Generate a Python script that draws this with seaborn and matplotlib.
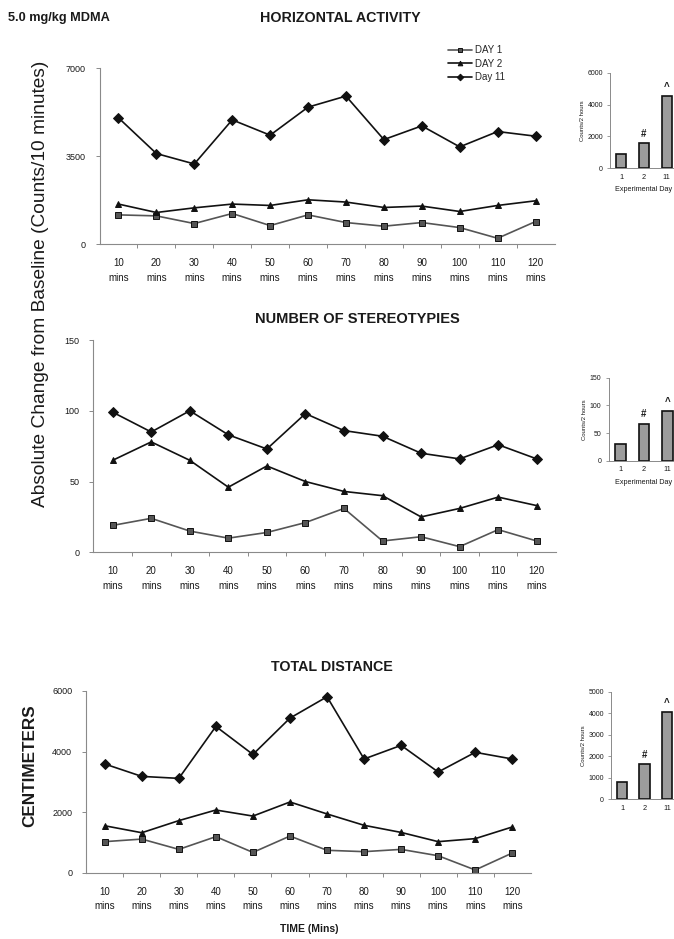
import matplotlib
matplotlib.use("Agg")
import matplotlib.pyplot as plt
from matplotlib.ticker import FixedLocator
import pandas as pd
import seaborn as sns

# ---- data ---------------------------------------------------------------
times = ["10\nmins", "20\nmins", "30\nmins", "40\nmins", "50\nmins", "60\nmins",
         "70\nmins", "80\nmins", "90\nmins", "100\nmins", "110\nmins", "120\nmins"]
days = ["DAY 1", "DAY 2", "Day 11"]

horiz_day1 = [1170, 1130, 825, 1225, 745, 1170, 865, 720, 865, 665, 240, 905]
horiz_day2 = [1600, 1265, 1450, 1600, 1545, 1770, 1680, 1465, 1520, 1305, 1545, 1730]
horiz_day11 = [5030, 3610, 3195, 4950, 4340, 5455, 5895, 4165, 4710, 3875, 4485, 4300]

stereo_day1 = [19, 24, 15, 10, 14, 21, 31, 8, 11, 4, 16, 8]
stereo_day2 = [65, 78, 65, 46, 61, 50, 43, 40, 25, 31, 39, 33]
stereo_day11 = [99, 85, 100, 83, 73, 98, 86, 82, 70, 66, 76, 66]

dist_day1 = [1025, 1110, 770, 1190, 670, 1210, 740, 695, 770, 560, 90, 650]
dist_day2 = [1550, 1320, 1720, 2070, 1870, 2335, 1940, 1565, 1330, 1025, 1125, 1510]
dist_day11 = [3590, 3180, 3115, 4830, 3905, 5105, 5810, 3755, 4205, 3325, 3975, 3755]

exp_days = ["1", "2", "11"]
horiz_totals = [900, 1570, 4540]
stereo_totals = [31, 67, 90]
dist_totals = [800, 1635, 4070]
total_marks = ["", "#", "^"]

# ---- style --------------------------------------------------------------
sns.set_theme(style="white")
plt.rcParams["font.family"] = ["Liberation Sans", "DejaVu Sans"]
TEXT = "#1a1a1a"
SPINE = "#8a8a8a"

fig = plt.figure(figsize=(6.74, 9.39), dpi=100)


def long_frame(d1, d2, d11):
    return pd.DataFrame({
        "time": times * 3,
        "value": d1 + d2 + d11,
        "day": [days[0]] * len(times) + [days[1]] * len(times) + [days[2]] * len(times),
    })


def style_axes(ax):
    for side in ("top", "right"):
        ax.spines[side].set_visible(False)
    for side in ("left", "bottom"):
        ax.spines[side].set_color(SPINE)
        ax.spines[side].set_linewidth(0.8)
    ax.tick_params(axis="y", length=3, width=0.7, color=SPINE, pad=7,
                   labelsize=6.5, labelcolor=TEXT, left=True)
    ax.tick_params(axis="x", length=0, pad=10, labelsize=7, labelcolor=TEXT)
    for lbl in ax.get_xticklabels():
        lbl.set_linespacing(1.55)
    ax.set_xlabel("")
    ax.set_ylabel("")


def draw_panel(rect, frame, ylim, yticks, legend=False):
    ax = fig.add_axes(rect)
    sns.pointplot(data=frame, x="time", y="value", hue="day", order=times,
                  hue_order=days, palette=["#555555", "#111111", "#111111"],
                  markers=["s", "^", "D"], linestyles="-", errorbar=None,
                  markersize=4.8, linewidth=1.2, markeredgecolor="#111111",
                  markeredgewidth=0.7, ax=ax)
    ax.set_xlim(-0.5, len(times) - 0.5)
    ax.set_ylim(*ylim)
    ax.set_yticks(yticks)
    ax.xaxis.set_minor_locator(FixedLocator([i + 0.5 for i in range(len(times) - 1)]))
    ax.tick_params(axis="x", which="minor", length=3, width=0.7, color=SPINE,
                   direction="out", bottom=True)
    style_axes(ax)
    handles, labels = ax.get_legend_handles_labels()
    if ax.get_legend() is not None:
        ax.get_legend().remove()
    if legend:
        fig.legend(handles, labels, loc="upper left",
                   bbox_to_anchor=(448 / 674, 1 - 45 / 939), frameon=False,
                   fontsize=7, handlelength=2.5, handletextpad=0.3,
                   labelspacing=0.38, markerscale=0.7, borderpad=0,
                   borderaxespad=0)
    return ax


def draw_inset(rect, vals, ylim, yticks, xlabel):
    ax = fig.add_axes(rect)
    sns.barplot(x=exp_days, y=vals, color="#9c9c9c", saturation=1,
                edgecolor="#111111", linewidth=1.2, width=0.45, ax=ax)
    ax.set_xlim(-0.5, 2.5)
    ax.set_ylim(*ylim)
    ax.set_yticks(yticks)
    for side in ("top", "right"):
        ax.spines[side].set_visible(False)
    for side in ("left", "bottom"):
        ax.spines[side].set_color(SPINE)
        ax.spines[side].set_linewidth(0.7)
    ax.tick_params(axis="y", length=2, width=0.6, color=SPINE, pad=3,
                   labelsize=5, labelcolor=TEXT, left=True)
    ax.tick_params(axis="x", length=0, pad=4, labelsize=5.3, labelcolor=TEXT)
    ax.set_ylabel("Counts/2 hours", fontsize=4.3, color=TEXT, labelpad=2)
    ax.set_xlabel(xlabel, fontsize=5.2, color=TEXT, labelpad=4)
    for i, (v, m) in enumerate(zip(vals, total_marks)):
        if m:
            ax.annotate(m, (i, v), xytext=(0, 3), textcoords="offset points",
                        ha="center", va="bottom", fontsize=7,
                        fontweight="bold", color=TEXT)
    return ax


# ---- main panels --------------------------------------------------------
draw_panel([99.5 / 674, 1 - 244.3 / 939, 455 / 674, 176 / 939],
           long_frame(horiz_day1, horiz_day2, horiz_day11),
           (0, 7000), [0, 3500, 7000], legend=True)
draw_panel([93.4 / 674, 1 - 552.3 / 939, 462.6 / 674, 212.3 / 939],
           long_frame(stereo_day1, stereo_day2, stereo_day11),
           (0, 150), [0, 50, 100, 150])
draw_panel([86.2 / 674, 1 - 872.7 / 939, 444.6 / 674, 181.7 / 939],
           long_frame(dist_day1, dist_day2, dist_day11),
           (0, 6000), [0, 2000, 4000, 6000])

# ---- daily totals -------------------------------------------------------
draw_inset([610 / 674, 1 - 168.3 / 939, 68 / 674, 95.6 / 939],
           horiz_totals, (0, 6000), [0, 2000, 4000, 6000], "Experimental Day")
draw_inset([608.5 / 674, 1 - 460.7 / 939, 71 / 674, 83 / 939],
           stereo_totals, (0, 150), [0, 50, 100, 150], "Experimental Day")
draw_inset([611 / 674, 1 - 799.3 / 939, 67 / 674, 107.6 / 939],
           dist_totals, (0, 5000), [0, 1000, 2000, 3000, 4000, 5000], "")

# ---- titles and labels --------------------------------------------------
fig.text(8 / 674, 1 - 18 / 939, "5.0 mg/kg MDMA", fontsize=9.2,
         fontweight="bold", color=TEXT, ha="left", va="center")
fig.text(340 / 674, 1 - 18 / 939, "HORIZONTAL ACTIVITY", fontsize=10.3,
         fontweight="bold", color=TEXT, ha="center", va="center")
fig.text(357 / 674, 1 - 319 / 939, "NUMBER OF STEREOTYPIES", fontsize=10.5,
         fontweight="bold", color=TEXT, ha="center", va="center")
fig.text(332 / 674, 1 - 667 / 939, "TOTAL DISTANCE", fontsize=10.3,
         fontweight="bold", color=TEXT, ha="center", va="center")
fig.text(309 / 674, 1 - 929 / 939, "TIME (Mins)", fontsize=7.5,
         fontweight="bold", color=TEXT, ha="center", va="center")
fig.text(41 / 674, 1 - 284 / 939,
         "Absolute Change from Baseline (Counts/10 minutes)", fontsize=13.8,
         color=TEXT, rotation=90, ha="center", va="center")
fig.text(30 / 674, 1 - 766 / 939, "CENTIMETERS", fontsize=12.3,
         fontweight="bold", color=TEXT, rotation=90, ha="center", va="center")

fig.savefig("out.png", dpi=100, facecolor="white")
